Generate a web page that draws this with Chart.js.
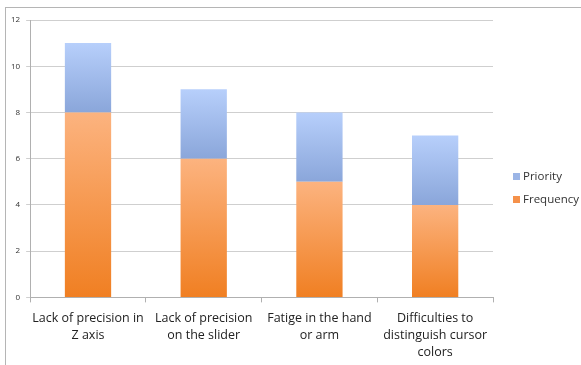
<!DOCTYPE html>
<html>
<head>
<meta charset="utf-8">
<script src="https://cdn.jsdelivr.net/npm/chart.js@4.4.1/dist/chart.umd.min.js"></script>
<style>
  html, body { margin: 0; padding: 0; background: #fff; }
  #wrap { position: absolute; left: 0; top: 0; width: 581px; height: 365px; }
  #frame { position: absolute; left: 5px; top: 7px; right: 0; bottom: 0; border-left: 1px solid #b5b5b5; border-top: 1px solid #b5b5b5; }
  canvas { position: absolute; left: 0; top: 0; }
</style>
</head>
<body>
<div id="wrap">
  <div id="frame"></div>
  <canvas id="c" width="581" height="365"></canvas>
</div>
<script>
const categories = [
  ["Lack of precision in", "Z axis"],
  ["Lack of precision", "on the slider"],
  ["Fatige in the hand", "or arm"],
  ["Difficulties to", "distinguish cursor", "colors"]
];
const frequency = [8, 6, 5, 4];
const priority = [3, 3, 3, 3];
const yTicks = [0, 2, 4, 6, 8, 10, 12];

function grad(ctx, chart, startVals, endVals, topColor, bottomColor) {
  const area = chart.chartArea;
  if (!area) return bottomColor;
  const i = ctx.dataIndex;
  const ys = chart.scales.y;
  const y0 = ys.getPixelForValue(startVals[i]);
  const y1 = ys.getPixelForValue(endVals[i]);
  const g = chart.ctx.createLinearGradient(0, y1, 0, y0);
  g.addColorStop(0, topColor);
  g.addColorStop(1, bottomColor);
  return g;
}
const zeros = frequency.map(() => 0);
const totals = frequency.map((v, i) => v + priority[i]);

const legendPlugin = {
  id: 'sideLegend',
  afterDraw(chart) {
    const c = chart.ctx;
    const items = [
      { label: chart.data.datasets[1].label, color: '#9bb5e6', y: 177 },
      { label: chart.data.datasets[0].label, color: '#f5914a', y: 200 }
    ];
    c.save();
    c.font = '11.5px "Open Sans"';
    c.textBaseline = 'middle';
    items.forEach(it => {
      c.fillStyle = it.color;
      c.fillRect(513, it.y - 4, 7, 7);
      c.fillStyle = '#333';
      c.fillText(it.label, 523, it.y);
    });
    c.restore();
  }
};

new Chart(document.getElementById('c'), {
  type: 'bar',
  data: {
    labels: categories,
    datasets: [
      {
        label: 'Frequency',
        data: frequency,
        backgroundColor: (ctx) => grad(ctx, ctx.chart, zeros, frequency, '#fcb37f', '#f07f22'),
        borderWidth: 0,
        barPercentage: 0.4,
        categoryPercentage: 1.0
      },
      {
        label: 'Priority',
        data: priority,
        backgroundColor: (ctx) => grad(ctx, ctx.chart, frequency, totals, '#b7cffb', '#8aa6da'),
        borderWidth: 0,
        barPercentage: 0.4,
        categoryPercentage: 1.0
      }
    ]
  },
  options: {
    responsive: false,
    animation: false,
    devicePixelRatio: 1,
    layout: { padding: { left: 5, right: 88, top: 20, bottom: -4 } },
    plugins: {
      legend: { display: false },
      tooltip: { enabled: false }
    },
    scales: {
      x: {
        stacked: true,
        grid: { display: true, drawOnChartArea: false, drawTicks: true, tickLength: 5, offset: true, color: '#b0b0b0' },
        border: { display: true, color: '#b0b0b0' },
        ticks: { font: { family: 'Open Sans', size: 12.5, lineHeight: 1.35 }, color: '#222', padding: 8, maxRotation: 0, autoSkip: false }
      },
      y: {
        stacked: true,
        min: 0,
        max: 12,
        afterBuildTicks: (axis) => { axis.ticks = yTicks.map(v => ({ value: v })); },
        grid: { color: '#cfcfcf', lineWidth: 1, tickLength: 4 },
        border: { display: true, color: '#b0b0b0' },
        ticks: { font: { family: 'Open Sans', size: 8 }, color: '#333', padding: 6 }
      }
    }
  },
  plugins: [legendPlugin]
});
</script>
</body>
</html>
